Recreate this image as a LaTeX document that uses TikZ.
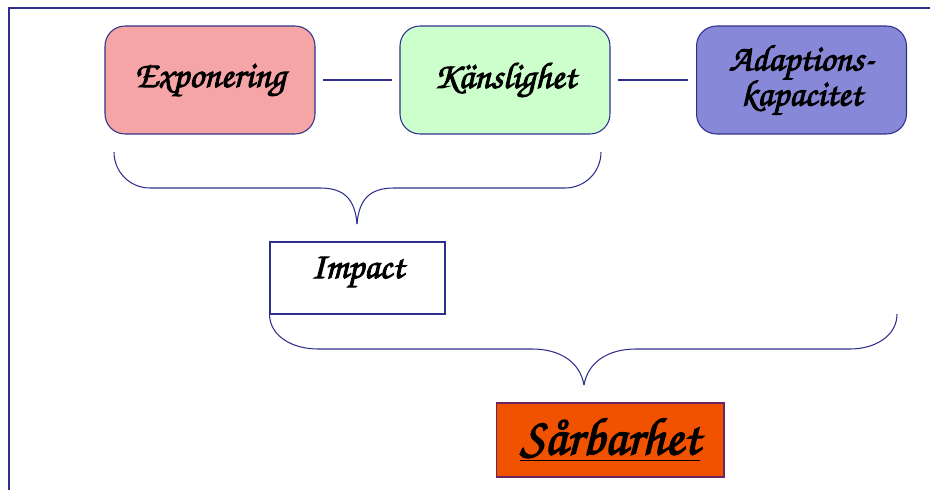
\documentclass[tikz,border=0pt]{standalone}
\usepackage{fontspec}
\usepackage{tikz}
\usetikzlibrary{calc}
\newfontfamily\chorus[FakeBold=2.6]{TeX Gyre Chorus}
\definecolor{rimblue}{RGB}{48,48,140}
\definecolor{exprose}{RGB}{245,165,165}
\definecolor{kansgreen}{RGB}{204,255,204}
\definecolor{adaplila}{RGB}{136,136,216}
\definecolor{sarorange}{RGB}{240,82,0}

\begin{document}
\begin{tikzpicture}[x=0.02cm,y=-0.02cm,
    box/.style={draw=rimblue,line width=0.6pt,rounded corners=0.4cm,minimum width=4.2cm,minimum height=2.16cm,align=center,font=\chorus\fontsize{21}{24}\selectfont},
    link/.style={rimblue,line width=0.6pt,shorten <=4.5pt,shorten >=4.5pt}]
        \useasboundingbox (0,0) rectangle (930,490);
        \draw[rimblue,line width=0.7pt] (9,495) -- (9,8) -- (935,8);
        %boxes
        \node[box,fill=exprose] (expo) at (210,80) {Exponering};
        \node[box,fill=kansgreen] (kans) at (505,80) {Känslighet};
        \node[box,fill=adaplila] (adap) at (801.5,80) {Adaptions-\\[-4pt]kapacitet};
        \draw[link] (expo) -- (kans);
        \draw[link] (kans) -- (adap);

        \node[draw=rimblue,line width=0.6pt,fill=white,minimum width=3.5cm,minimum height=1.44cm,text depth=0.42cm,font=\chorus\fontsize{21}{24}\selectfont] (impact) at (357.5,278) {Impact};
        \node[draw=rimblue!70!red,line width=0.6pt,fill=sarorange,minimum width=4.56cm,minimum height=1.48cm,font=\chorus\fontsize{30}{32}\selectfont] (sar) at (610,440) {\underline{Sårbarhet}};

        %braces
        \coordinate (b1l) at (114,152);
        \coordinate (b1r) at (601,152);
        \coordinate (b1t) at (357,224);
        \draw[rimblue,line width=0.6pt] (b1l) .. controls (114,172) and (130,188) .. (150,188) -- (320,188) .. controls (345,188) and (355,200) .. (b1t);
        \draw[rimblue,line width=0.6pt] (b1r) .. controls (601,172) and (585,188) .. (565,188) -- (394,188) .. controls (369,188) and (359,200) .. (b1t);

        \coordinate (b2t) at (584,385);
        \coordinate (b2r) at (897,314);
        \draw[rimblue,line width=0.6pt] (impact.south west) .. controls (270,336) and (292,349) .. (318,349) -- (532,349) .. controls (560,349) and (580,362) .. (b2t);
        \draw[rimblue,line width=0.6pt] (b2r) .. controls (897,336) and (875,349) .. (850,349) -- (636,349) .. controls (608,349) and (588,362) .. (b2t);
    \end{tikzpicture}
\end{document}
